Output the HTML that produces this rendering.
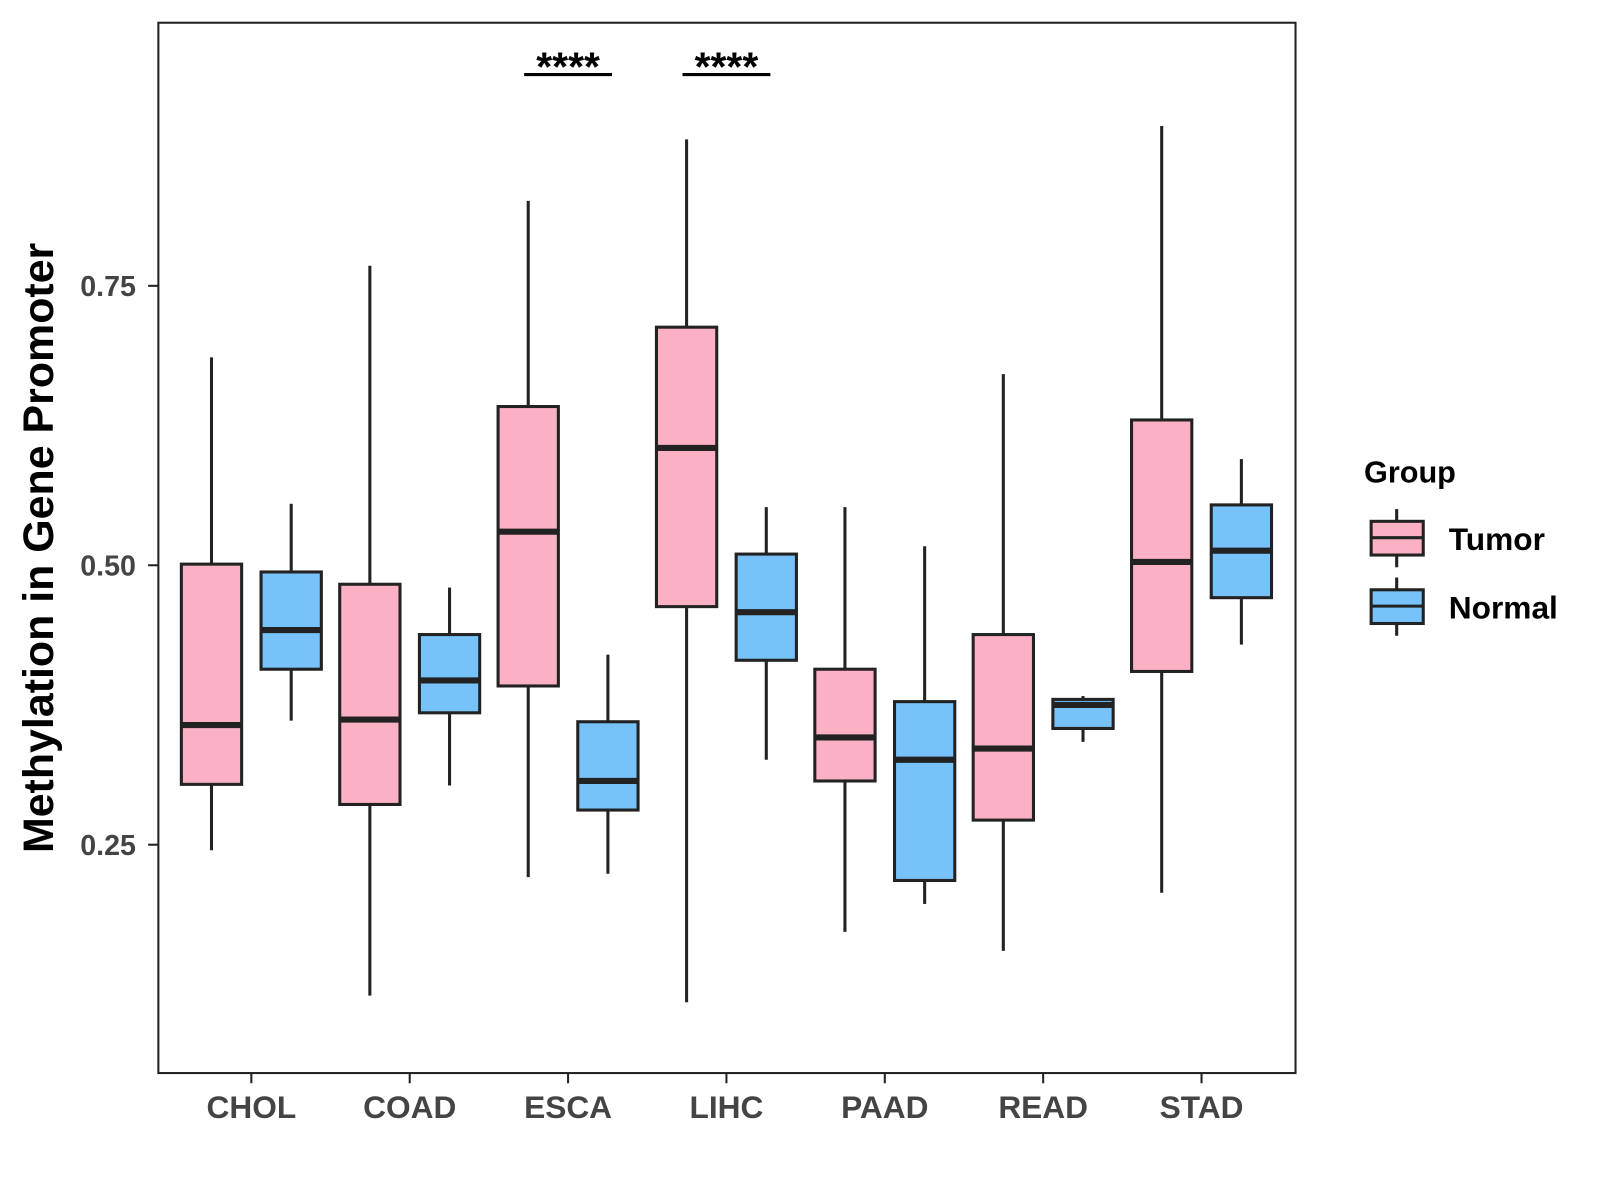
<!DOCTYPE html>
<html><head><meta charset="utf-8"><style>
body{margin:0;background:#fff}
svg{display:block;font-family:"Liberation Sans",Arial,sans-serif}
</style></head><body>
<svg id="chart" width="1600" height="1200" viewBox="0 0 1566 1174">
<rect x="155" y="22" width="1113" height="1028" fill="#fff" stroke="#222" stroke-width="2"/>
<g id="boxes"></g>
<g id="axes"></g>
<text transform="translate(52,536) rotate(-90)" text-anchor="middle" font-size="42" font-weight="bold">Methylation in Gene Promoter</text>
<g>
<text x="1335" y="472" font-size="30" font-weight="bold">Group</text>
<g>
<line x1="1367" y1="498" x2="1367" y2="555" stroke="#222" stroke-width="3"/>
<rect x="1342" y="510" width="51" height="33" fill="#FBB1C3" stroke="#222" stroke-width="3"/>
<line x1="1342" y1="526" x2="1393" y2="526" stroke="#222" stroke-width="3"/>
<text x="1418" y="538" font-size="31" font-weight="bold">Tumor</text></g>
<g>
<line x1="1367" y1="565" x2="1367" y2="622" stroke="#222" stroke-width="3"/>
<rect x="1342" y="577" width="51" height="33" fill="#77C2F8" stroke="#222" stroke-width="3"/>
<line x1="1342" y1="593" x2="1393" y2="593" stroke="#222" stroke-width="3"/>
<text x="1418" y="605" font-size="31" font-weight="bold">Normal</text></g>
</g>
<g id="sig"></g>
</svg>
<script>
const categories=["CHOL","COAD","ESCA","LIHC","PAAD","READ","STAD"];
// [lowWhisker, q1, median, q3, highWhisker]
const tumorStats=[[0.245,0.304,0.357,0.501,0.686],[0.115,0.286,0.362,0.483,0.768],[0.221,0.392,0.530,0.642,0.826],[0.109,0.463,0.605,0.713,0.881],[0.172,0.307,0.346,0.407,0.552],[0.155,0.272,0.336,0.438,0.671],[0.207,0.405,0.503,0.630,0.893]];
const normalStats=[[0.361,0.407,0.442,0.494,0.555],[0.303,0.368,0.397,0.438,0.480],[0.224,0.281,0.307,0.360,0.420],[0.326,0.415,0.458,0.510,0.552],[0.197,0.218,0.326,0.378,0.517],[0.342,0.354,0.375,0.380,0.383],[0.429,0.471,0.513,0.554,0.595]];
const yTicks=[0.25,0.50,0.75];
const yTickLabels=["0.25","0.50","0.75"];
const sigCategories=["ESCA","LIHC"];
const sigLabels=["****","****"];
const sigLevel=0.939;

const NS="http://www.w3.org/2000/svg";
const y=v=>553-(v-0.5)*1094;
const x=i=>246+i*155;
function mk(tag,attrs,parent){const e=document.createElementNS(NS,tag);for(const k in attrs)e.setAttribute(k,attrs[k]);parent.appendChild(e);return e;}
const boxes=document.getElementById('boxes'),axes=document.getElementById('axes'),sig=document.getElementById('sig');
function drawBox(cx,s,fill,name){
  const g=mk('g',{},boxes);
  
  
  const st={stroke:"#222","stroke-width":3};
  mk('line',{x1:cx,x2:cx,y1:y(s[4]),y2:y(s[3]),...st},g);
  mk('line',{x1:cx,x2:cx,y1:y(s[1]),y2:y(s[0]),...st},g);
  mk('rect',{x:cx-29.5,y:y(s[3]),width:59,height:y(s[1])-y(s[3]),fill:fill,...st},g);
  mk('line',{x1:cx-29.5,x2:cx+29.5,y1:y(s[2]),y2:y(s[2]),stroke:"#222","stroke-width":6},g);
}
categories.forEach((c,i)=>{
  drawBox(x(i)-39,tumorStats[i],"#FBB1C3","box-tumor-"+c.toLowerCase());
  drawBox(x(i)+39,normalStats[i],"#77C2F8","box-normal-"+c.toLowerCase());
  mk('line',{x1:x(i),x2:x(i),y1:1050,y2:1060,stroke:"#222","stroke-width":2},axes);
  const t=mk('text',{x:x(i),y:1094,"text-anchor":"middle","font-size":31,"font-weight":"bold",fill:"#444"},axes);
  t.textContent=c;
  
  
});
yTicks.forEach((v,i)=>{
  mk('line',{x1:145,x2:155,y1:y(v),y2:y(v),stroke:"#222","stroke-width":2},axes);
  const t=mk('text',{x:133,y:y(v)+10,"text-anchor":"end","font-size":28,"font-weight":"bold",fill:"#444"},axes);
  t.textContent=yTickLabels[i];
  
  
});
sigCategories.forEach((c,k)=>{
  const i=categories.indexOf(c);
  const g=mk('g',{},sig);
  
  
  mk('line',{x1:x(i)-43,x2:x(i)+43,y1:y(sigLevel),y2:y(sigLevel),stroke:"#000","stroke-width":3},g);
  const t=mk('text',{x:x(i),y:y(sigLevel)+6,"text-anchor":"middle","font-size":40,"font-weight":"bold"},g);
  t.textContent=sigLabels[k];
});
</script>
</body></html>
